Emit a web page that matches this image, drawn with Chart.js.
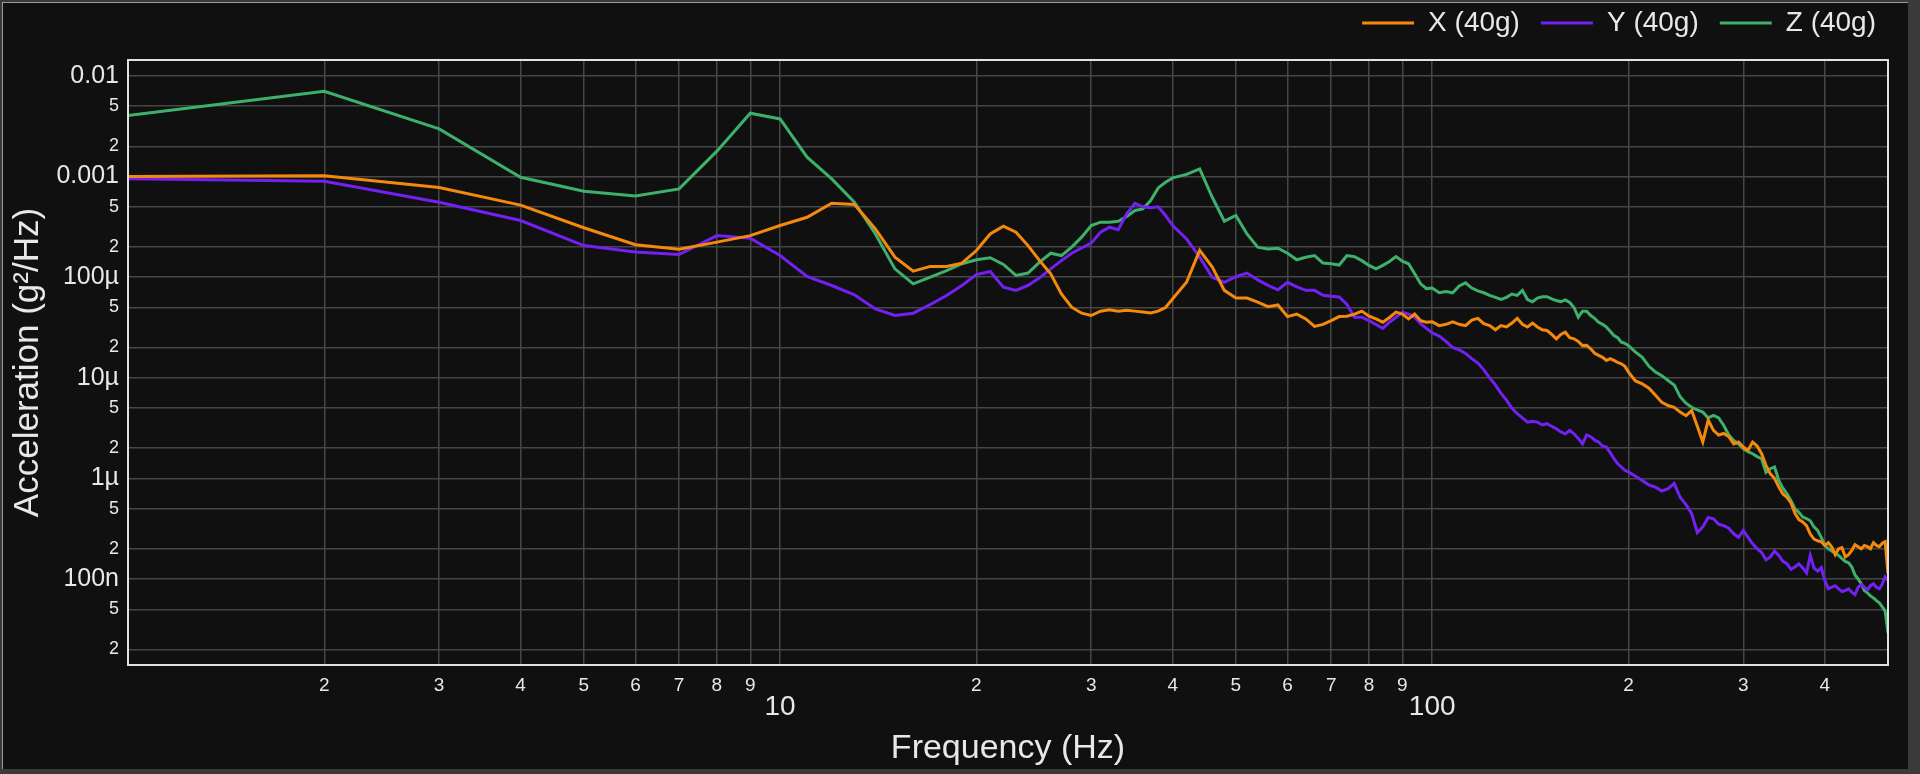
<!DOCTYPE html>
<html>
<head>
<meta charset="utf-8">
<script src="https://cdn.jsdelivr.net/npm/chart.js@4.4.1/dist/chart.umd.min.js"></script>
<style>
  html, body { margin: 0; padding: 0; }
  body { width: 1920px; height: 774px; background: #3a3a3a; position: relative; overflow: hidden; }
  #frame {
    position: absolute; left: 2px; top: 2px; width: 1905px; height: 766px;
    background: #101010; border-left: 1px solid #9a9a9a; border-top: 1px solid #9a9a9a;
  }
  canvas { display: block; }
</style>
</head>
<body>
<div id="frame"><canvas id="psd" width="1905" height="766"></canvas></div>
<script>
'use strict';

/* ----------------------------------------------------------
   DATA
   One shared frequency list (Hz) and one PSD list per axis (g²/Hz)
---------------------------------------------------------- */
const FREQ = [
  1, 2, 3, 4, 5, 6, 7, 8, 9, 10,
  11, 12, 13, 14, 15, 16, 17, 18, 19, 20,
  21, 22, 23, 24, 25, 26, 27, 28, 29, 30,
  31, 32, 33, 34, 35, 36, 37, 38, 39, 40,
  42, 44, 46, 48, 50, 52, 54, 56, 58, 60,
  62, 64, 66, 68, 70, 72, 74, 76, 78, 80,
  82, 84, 86, 88, 90, 92, 94, 96, 98, 100,
  102.5, 105, 107.5, 110, 112.5, 115, 117.5, 120, 122.5, 125,
  127.5, 130, 132.5, 135, 137.5, 140, 142.5, 145, 147.5, 150,
  152.5, 155, 157.5, 160, 162.5, 165, 167.5, 170, 172.5, 175,
  177.5, 180, 182.5, 185, 187.5, 190, 192.5, 195, 197.5, 200,
  205, 210, 215, 220, 225, 230, 235, 240, 245, 250,
  255, 260, 265, 270, 275, 280, 285, 290, 295, 300,
  305, 310, 315, 320, 325, 330, 335, 340, 345, 350,
  355, 360, 365, 370, 375, 380, 385, 390, 395, 400,
  405, 410, 415, 420, 425, 430, 435, 440, 445, 450,
  455, 460, 465, 470, 475, 480, 485, 490, 495, 500
];

const X_PSD = [
  1.0e-3, 1.02e-3, 7.8e-4, 5.2e-4, 3.1e-4, 2.1e-4, 1.9e-4, 2.23e-4, 2.59e-4, 3.26e-4,
  3.94e-4, 5.43e-4, 5.27e-4, 3.02e-4, 1.58e-4, 1.15e-4, 1.28e-4, 1.28e-4, 1.38e-4, 1.84e-4,
  2.69e-4, 3.21e-4, 2.8e-4, 2.06e-4, 1.46e-4, 1.08e-4, 6.83e-5, 5.03e-5, 4.39e-5, 4.16e-5,
  4.59e-5, 4.75e-5, 4.6e-5, 4.7e-5, 4.6e-5, 4.5e-5, 4.4e-5, 4.6e-5, 5.0e-5, 6.1e-5,
  8.9e-5, 1.85e-4, 1.26e-4, 7.4e-5, 6.2e-5, 6.2e-5, 5.65e-5, 5.1e-5, 5.3e-5, 4.06e-5,
  4.3e-5, 3.85e-5, 3.24e-5, 3.4e-5, 3.7e-5, 4.06e-5, 4.1e-5, 4.3e-5, 4.6e-5, 4.1e-5,
  3.85e-5, 3.57e-5, 3.98e-5, 4.49e-5, 4.3e-5, 3.85e-5, 4.3e-5, 3.7e-5, 3.57e-5, 3.6e-5,
  3.3e-5, 3.4e-5, 3.6e-5, 3.4e-5, 3.3e-5, 3.75e-5, 3.9e-5, 3.45e-5, 3.3e-5, 3.0e-5,
  3.3e-5, 3.2e-5, 3.5e-5, 3.9e-5, 3.4e-5, 3.2e-5, 3.5e-5, 3.2e-5, 3.0e-5, 2.95e-5,
  2.7e-5, 2.44e-5, 2.7e-5, 2.84e-5, 2.5e-5, 2.44e-5, 2.3e-5, 2.09e-5, 2.1e-5, 1.94e-5,
  1.75e-5, 1.67e-5, 1.6e-5, 1.49e-5, 1.55e-5, 1.49e-5, 1.42e-5, 1.38e-5, 1.3e-5, 1.14e-5,
  9.3e-6, 8.7e-6, 7.9e-6, 6.7e-6, 5.7e-6, 5.3e-6, 5.1e-6, 4.56e-6, 4.2e-6, 4.73e-6,
  3.3e-6, 2.3e-6, 3.8e-6, 3.0e-6, 2.7e-6, 2.8e-6, 2.6e-6, 2.2e-6, 2.3e-6, 2.05e-6,
  1.9e-6, 2.3e-6, 2.1e-6, 1.76e-6, 1.35e-6, 1.11e-6, 1.0e-6, 8.2e-7, 7.0e-7, 6.5e-7,
  5.7e-7, 4.5e-7, 3.9e-7, 3.7e-7, 3.4e-7, 2.8e-7, 2.5e-7, 2.4e-7, 2.35e-7, 2.16e-7,
  2.3e-7, 2.08e-7, 1.75e-7, 2.0e-7, 2.05e-7, 1.66e-7, 1.75e-7, 1.93e-7, 2.2e-7, 2.1e-7,
  2.0e-7, 2.16e-7, 2.1e-7, 2.0e-7, 2.3e-7, 2.16e-7, 2.1e-7, 2.27e-7, 2.35e-7, 1.13e-7
];

const Y_PSD = [
  9.5e-4, 9.0e-4, 5.55e-4, 3.66e-4, 2.06e-4, 1.78e-4, 1.68e-4, 2.59e-4, 2.44e-4, 1.64e-4,
  1.02e-4, 8.27e-5, 6.68e-5, 4.84e-5, 4.16e-5, 4.39e-5, 5.35e-5, 6.58e-5, 8.27e-5, 1.06e-4,
  1.14e-4, 7.96e-5, 7.38e-5, 8.27e-5, 9.85e-5, 1.21e-4, 1.46e-4, 1.73e-4, 1.95e-4, 2.18e-4,
  2.8e-4, 3.14e-4, 2.96e-4, 4.26e-4, 5.43e-4, 5.0e-4, 4.9e-4, 5.0e-4, 4.1e-4, 3.26e-4,
  2.4e-4, 1.58e-4, 1.0e-4, 8.9e-5, 1.01e-4, 1.1e-4, 9.4e-5, 8.3e-5, 7.5e-5, 8.9e-5,
  8.0e-5, 7.4e-5, 7.4e-5, 6.6e-5, 6.46e-5, 6.36e-5, 5.35e-5, 4.0e-5, 4.0e-5, 3.7e-5,
  3.39e-5, 3.1e-5, 3.57e-5, 4.0e-5, 4.49e-5, 4.3e-5, 4.0e-5, 3.45e-5, 3.1e-5, 2.8e-5,
  2.6e-5, 2.3e-5, 2.0e-5, 1.9e-5, 1.75e-5, 1.55e-5, 1.4e-5, 1.2e-5, 1.0e-5, 8.5e-6,
  7.0e-6, 6.0e-6, 5.0e-6, 4.4e-6, 4.0e-6, 3.63e-6, 3.7e-6, 3.63e-6, 3.4e-6, 3.5e-6,
  3.3e-6, 3.11e-6, 2.9e-6, 2.78e-6, 3.0e-6, 2.78e-6, 2.5e-6, 2.21e-6, 2.7e-6, 2.6e-6,
  2.4e-6, 2.3e-6, 2.1e-6, 2.05e-6, 1.8e-6, 1.57e-6, 1.4e-6, 1.3e-6, 1.2e-6, 1.16e-6,
  1.05e-6, 9.55e-7, 8.6e-7, 8.2e-7, 7.5e-7, 7.9e-7, 8.9e-7, 6.5e-7, 5.5e-7, 4.46e-7,
  2.9e-7, 3.3e-7, 4.1e-7, 3.97e-7, 3.5e-7, 3.4e-7, 3.2e-7, 2.82e-7, 2.6e-7, 3.04e-7,
  2.6e-7, 2.24e-7, 2.0e-7, 1.84e-7, 1.55e-7, 1.66e-7, 1.9e-7, 1.72e-7, 1.5e-7, 1.42e-7,
  1.25e-7, 1.32e-7, 1.42e-7, 1.29e-7, 1.15e-7, 1.72e-7, 1.29e-7, 1.2e-7, 1.3e-7, 9.7e-8,
  8.0e-8, 8.3e-8, 8.6e-8, 8.0e-8, 7.5e-8, 7.7e-8, 8.0e-8, 7.4e-8, 7.0e-8, 8.3e-8,
  8.8e-8, 8.3e-8, 7.8e-8, 8.6e-8, 9.0e-8, 8.3e-8, 8.0e-8, 8.9e-8, 1.05e-7, 9.7e-8
];

const Z_PSD = [
  4.04e-3, 7.05e-3, 2.98e-3, 9.85e-4, 7.15e-4, 6.4e-4, 7.54e-4, 1.79e-3, 4.26e-3, 3.74e-3,
  1.56e-3, 9.48e-4, 5.55e-4, 2.69e-4, 1.21e-4, 8.59e-5, 1.0e-4, 1.16e-4, 1.36e-4, 1.49e-4,
  1.56e-4, 1.34e-4, 1.04e-4, 1.10e-4, 1.41e-4, 1.73e-4, 1.64e-4, 1.99e-4, 2.50e-4, 3.26e-4,
  3.52e-4, 3.52e-4, 3.6e-4, 4.0e-4, 4.6e-4, 4.77e-4, 5.78e-4, 7.71e-4, 8.79e-4, 9.7e-4,
  1.05e-3, 1.19e-3, 6.23e-4, 3.6e-4, 4.1e-4, 2.69e-4, 1.99e-4, 1.91e-4, 1.94e-4, 1.73e-4,
  1.49e-4, 1.58e-4, 1.64e-4, 1.38e-4, 1.36e-4, 1.32e-4, 1.64e-4, 1.6e-4, 1.46e-4, 1.31e-4,
  1.21e-4, 1.31e-4, 1.43e-4, 1.6e-4, 1.44e-4, 1.36e-4, 1.08e-4, 8.6e-5, 7.7e-5, 7.8e-5,
  7.0e-5, 7.2e-5, 7.0e-5, 8.2e-5, 8.8e-5, 7.8e-5, 7.3e-5, 7.0e-5, 6.6e-5, 6.3e-5,
  6.0e-5, 6.3e-5, 6.8e-5, 6.6e-5, 7.4e-5, 6.0e-5, 5.7e-5, 6.2e-5, 6.4e-5, 6.4e-5,
  6.1e-5, 5.86e-5, 5.7e-5, 5.95e-5, 5.6e-5, 5.0e-5, 4.0e-5, 4.6e-5, 4.6e-5, 4.16e-5,
  3.9e-5, 3.57e-5, 3.4e-5, 3.19e-5, 2.9e-5, 2.63e-5, 2.5e-5, 2.26e-5, 2.2e-5, 2.09e-5,
  1.8e-5, 1.6e-5, 1.3e-5, 1.14e-5, 1.05e-5, 9.4e-6, 8.5e-6, 6.5e-6, 5.6e-6, 5.1e-6,
  4.8e-6, 4.56e-6, 4.0e-6, 4.23e-6, 4.0e-6, 3.36e-6, 2.7e-6, 2.38e-6, 2.2e-6, 1.97e-6,
  1.85e-6, 1.76e-6, 1.65e-6, 1.57e-6, 1.15e-6, 1.25e-6, 1.3e-6, 9.55e-7, 8.0e-7, 7.05e-7,
  6.0e-7, 5.0e-7, 4.6e-7, 4.13e-7, 4.0e-7, 3.8e-7, 3.3e-7, 3.04e-7, 2.6e-7, 2.16e-7,
  2.0e-7, 1.9e-7, 1.8e-7, 1.72e-7, 1.6e-7, 1.5e-7, 1.45e-7, 1.32e-7, 1.1e-7, 1.0e-7,
  9.0e-8, 7.7e-8, 7.3e-8, 6.8e-8, 6.5e-8, 6.1e-8, 5.8e-8, 5.3e-8, 4.8e-8, 2.9e-8
];

const SERIES_LABELS = ['X (40g)', 'Y (40g)', 'Z (40g)'];

/* Tick positions on both log axes */
const X_TICKS = [1, 2, 3, 4, 5, 6, 7, 8, 9, 10, 20, 30, 40, 50, 60, 70, 80, 90, 100, 200, 300, 400, 500];
const Y_TICKS = [2e-8, 5e-8, 1e-7, 2e-7, 5e-7, 1e-6, 2e-6, 5e-6, 1e-5, 2e-5, 5e-5, 1e-4, 2e-4, 5e-4, 1e-3, 2e-3, 5e-3, 1e-2];
const Y_DECADE_LABELS = { '-2': '0.01', '-3': '0.001', '-4': '100µ', '-5': '10µ', '-6': '1µ', '-7': '100n' };

/* ----------------------------------------------------------
   STYLE
---------------------------------------------------------- */
const COLORS = ['#f5890c', '#7320f2', '#3db16c'];
const TEXT = '#e8e8e8';
const GRID = '#464646';
const FONT = 'Arial, "Liberation Sans", sans-serif';

function isDecade(v) {
  const e = Math.log10(v);
  return Math.abs(e - Math.round(e)) < 1e-9;
}

function leadDigit(v) {
  return String(Math.round(v / Math.pow(10, Math.floor(Math.log10(v) + 1e-9))));
}

/* Draws the light frame round the plotting area */
const plotBorder = {
  id: 'plotBorder',
  afterDraw(chart) {
    const { ctx, chartArea: a } = chart;
    ctx.save();
    ctx.strokeStyle = '#e2e2e2';
    ctx.lineWidth = 2;
    ctx.strokeRect(a.left, a.top, a.right - a.left, a.bottom - a.top);
    ctx.restore();
  }
};

/* Fixes legend block height so the plot top lands where it should */
const legendHeight = {
  id: 'legendHeight',
  beforeInit(chart) {
    const legend = chart.legend;
    if (!legend) return;
    const fit = legend.fit;
    legend.fit = function () {
      fit.call(this);
      this.height = 72;
    };
  }
};

const datasets = [X_PSD, Y_PSD, Z_PSD].map((vals, i) => ({
  label: SERIES_LABELS[i],
  data: FREQ.map((f, j) => ({ x: f, y: vals[j] })),
  borderColor: COLORS[i],
  backgroundColor: COLORS[i],
  borderWidth: 3,
  pointRadius: 0,
  tension: 0,
  pointStyle: 'line'
}));

new Chart(document.getElementById('psd'), {
  type: 'line',
  data: { datasets },
  plugins: [plotBorder, legendHeight],
  options: {
    responsive: false,
    animation: false,
    devicePixelRatio: 1,
    layout: { padding: { left: 4, right: 11, top: -15, bottom: 0 } },
    plugins: {
      tooltip: { enabled: false },
      legend: {
        position: 'top',
        align: 'end',
        labels: {
          color: TEXT,
          font: { family: FONT, size: 28 },
          usePointStyle: true,
          pointStyleWidth: 52,
          padding: 21
        }
      }
    },
    scales: {
      x: {
        type: 'logarithmic',
        min: 1,
        max: 500,
        afterBuildTicks(scale) {
          scale.ticks = X_TICKS.map(v => ({ value: v, major: isDecade(v) }));
        },
        afterFit(scale) {
          scale.height = 104;
          scale.paddingRight = 20;
        },
        grid: { color: GRID, lineWidth: 1.5, drawTicks: false },
        border: { display: false },
        ticks: {
          autoSkip: false,
          maxRotation: 0,
          padding: 9,
          color: TEXT,
          font(ctx) {
            const v = ctx.tick ? ctx.tick.value : 2;
            return isDecade(v) ? { family: FONT, size: 28, lineHeight: 2.36 } : { family: FONT, size: 19 };
          },
          callback(v) {
            if (v === 1 || v === 500) return '';
            return isDecade(v) ? String(v) : leadDigit(v);
          }
        },
        title: {
          display: true,
          text: 'Frequency (Hz)',
          color: TEXT,
          font: { family: FONT, size: 34 },
          padding: { top: 0, bottom: 0 }
        }
      },
      y: {
        type: 'logarithmic',
        min: 1.4e-8,
        max: 0.0144,
        afterBuildTicks(scale) {
          scale.ticks = Y_TICKS.map(v => ({ value: v, major: isDecade(v) }));
        },
        afterFit(scale) { scale.width = 121; },
        grid: { color: GRID, lineWidth: 1.5, drawTicks: false },
        border: { display: false },
        ticks: {
          autoSkip: false,
          padding: 9,
          color: TEXT,
          font(ctx) {
            const v = ctx.tick ? ctx.tick.value : 2;
            return isDecade(v) ? { family: FONT, size: 25 } : { family: FONT, size: 18 };
          },
          callback(v) {
            if (isDecade(v)) return Y_DECADE_LABELS[String(Math.round(Math.log10(v)))];
            return leadDigit(v);
          }
        },
        title: {
          display: true,
          text: 'Acceleration (g²/Hz)',
          color: TEXT,
          font: { family: FONT, size: 35 },
          padding: { top: 0, bottom: 0 }
        }
      }
    }
  }
});
</script>
</body>
</html>
